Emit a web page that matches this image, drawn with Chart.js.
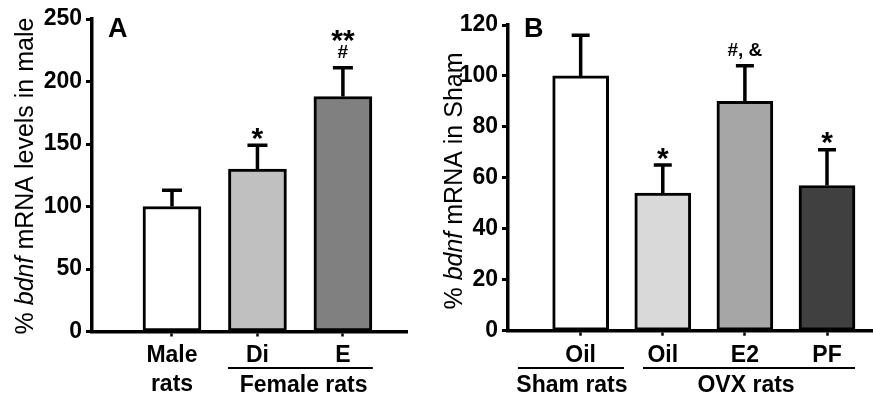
<!DOCTYPE html>
<html>
<head>
<meta charset="utf-8">
<script src="https://cdn.jsdelivr.net/npm/chart.js@4.4.1/dist/chart.umd.min.js"></script>
<style>
  html, body { margin: 0; padding: 0; background: #fff; }
  #wrap { position: relative; width: 873px; height: 396px; overflow: hidden; }
  canvas { position: absolute; top: 0; }
  #chartA { left: 0; }
  #chartB { left: 430px; }
</style>
</head>
<body>
<div id="wrap">
  <canvas id="chartA" width="430" height="396"></canvas>
  <canvas id="chartB" width="443" height="396"></canvas>
</div>
<script>
const FONT = 'Arial, "Liberation Sans", sans-serif';

// Panel A: male vs female rats
const catsA = [['Male', 'rats'], 'Di', 'E'];
const meansA = [100, 130, 188];
const semA = [13, 19, 23];
const marksA = [[], ['*'], ['#', '**']];
const colorsA = ['#ffffff', '#c0c0c0', '#808080'];
const yTicksA = [0, 50, 100, 150, 200, 250];

// Panel B: sham vs OVX rats
const catsB = ['Oil', 'Oil', 'E2', 'PF'];
const meansB = [100, 54, 90, 57];
const semB = [16, 11, 14, 14];
const marksB = [[], ['*'], ['#, &'], ['*']];
const colorsB = ['#ffffff', '#d9d9d9', '#a6a6a6', '#404040'];
const yTicksB = [0, 20, 40, 60, 80, 100, 120];

// rotated axis title with an italic gene name
function drawTitle(ctx, parts, cx, cy) {
  ctx.save();
  ctx.translate(cx, cy);
  ctx.rotate(-Math.PI / 2);
  ctx.textAlign = 'left';
  ctx.textBaseline = 'alphabetic';
  const fonts = parts.map(p => (p.italic ? 'italic ' : '') + '25px ' + FONT);
  let total = 0;
  const widths = parts.map((p, i) => {
    ctx.font = fonts[i];
    const w = ctx.measureText(p.text).width;
    total += w;
    return w;
  });
  let xx = -total / 2;
  parts.forEach((p, i) => {
    ctx.font = fonts[i];
    ctx.fillText(p.text, xx, 0);
    xx += widths[i];
  });
  ctx.restore();
}

const extras = {
  id: 'extras',
  afterDatasetsDraw(chart, args, o) {
    const { ctx, scales: { x, y } } = chart;
    const bars = chart.getDatasetMeta(0).data;
    ctx.save();
    ctx.strokeStyle = '#000';
    ctx.fillStyle = '#000';

    // error bars (upper half only) and significance marks
    bars.forEach((bar, i) => {
      const top = y.getPixelForValue(o.means[i]);
      const cap = y.getPixelForValue(o.means[i] + o.sem[i]);
      ctx.lineWidth = 3.5;
      ctx.beginPath();
      ctx.moveTo(bar.x, top);
      ctx.lineTo(bar.x, cap);
      ctx.moveTo(bar.x - o.capWidth / 2, cap);
      ctx.lineTo(bar.x + o.capWidth / 2, cap);
      ctx.stroke();

      let bottom = cap - 10;
      ctx.textAlign = 'center';
      ctx.textBaseline = 'alphabetic';
      o.marks[i].forEach(t => {
        const star = t[0] === '*';
        const size = star ? 30 : 19;
        const base = star ? bottom + 0.42 * size : bottom;
        ctx.font = 'bold ' + size + 'px ' + FONT;
        ctx.fillText(t, bar.x, base);
        bottom = base - 0.716 * size - 7;
      });
    });

    // group underlines and group names
    ctx.lineWidth = 2;
    ctx.font = 'bold 23px ' + FONT;
    ctx.textAlign = 'center';
    o.groups.forEach(g => {
      ctx.beginPath();
      ctx.moveTo(x.getPixelForValue(g.from), o.groupLineY);
      ctx.lineTo(x.getPixelForValue(g.to), o.groupLineY);
      ctx.stroke();
      ctx.fillText(g.label, x.getPixelForValue(g.at), o.groupLabelY);
    });

    // panel letter
    ctx.textAlign = 'left';
    ctx.font = 'bold 27px ' + FONT;
    ctx.fillText(o.letter, o.letterX, o.letterY);

    drawTitle(ctx, o.title, o.titleX, o.titleY);
    ctx.restore();
  }
};

function makePanel(id, cfg) {
  const tickFont = { family: FONT, size: 23, weight: 'bold', lineHeight: 1.26 };
  return new Chart(document.getElementById(id), {
    type: 'bar',
    data: {
      datasets: [{
        data: cfg.means.map((v, i) => ({ x: i + 1, y: v })),
        backgroundColor: cfg.colors,
        borderColor: '#000',
        borderWidth: 3,
        borderSkipped: false,
        barThickness: cfg.barWidth
      }]
    },
    options: {
      responsive: false,
      animation: false,
      devicePixelRatio: 1,
      layout: { padding: cfg.padding },
      plugins: {
        legend: { display: false },
        tooltip: { enabled: false },
        extras: {
          means: cfg.means, sem: cfg.sem, marks: cfg.marks, capWidth: cfg.capWidth,
          groups: cfg.groups, groupLineY: 368, groupLabelY: 392,
          letter: cfg.letter, letterX: cfg.letterX, letterY: 37,
          title: cfg.title, titleX: cfg.titleX, titleY: cfg.titleY
        }
      },
      scales: {
        x: {
          type: 'linear',
          offset: false,
          min: cfg.xMin,
          max: cfg.xMax,
          afterBuildTicks: s => { s.ticks = cfg.cats.map((c, i) => ({ value: i + 1 })); },
          afterFit: s => { s.height = cfg.xHeight; },
          ticks: {
            callback: v => cfg.cats[v - 1],
            font: tickFont,
            color: '#000',
            padding: 5,
            maxRotation: 0,
            autoSkip: false
          },
          grid: { offset: false, drawOnChartArea: false, tickLength: 5, tickWidth: 2.5, tickColor: '#000' },
          border: { color: '#000', width: 3.5 }
        },
        y: {
          min: 0,
          max: cfg.yTicks[cfg.yTicks.length - 1],
          afterBuildTicks: s => { s.ticks = cfg.yTicks.map(v => ({ value: v })); },
          afterFit: s => { s.width = cfg.yWidth; },
          ticks: { font: tickFont, color: '#000', padding: 4 },
          grid: { drawOnChartArea: false, tickLength: 6, tickWidth: 3, tickColor: '#000' },
          border: { color: '#000', width: 3.5 }
        }
      }
    },
    plugins: [extras]
  });
}

makePanel('chartA', {
  cats: catsA, means: meansA, sem: semA, marks: marksA, colors: colorsA, yTicks: yTicksA,
  barWidth: 58, capWidth: 20,
  padding: { top: 19, right: 23, bottom: 0, left: 0 },
  yWidth: 92, xHeight: 64.5, xMin: 0.064, xMax: 3.75,
  groups: [{ from: 1.655, to: 3.35, at: 2.54, label: 'Female rats' }],
  letter: 'A', letterX: 108,
  title: [{ text: '% ' }, { text: 'bdnf', italic: true }, { text: ' mRNA levels in male' }],
  titleX: 33, titleY: 176
});

makePanel('chartB', {
  cats: catsB, means: meansB, sem: semB, marks: marksB, colors: colorsB, yTicks: yTicksB,
  barWidth: 56, capWidth: 18,
  padding: { top: 25, right: 1, bottom: 0, left: 0 },
  yWidth: 78, xHeight: 65.3, xMin: 0.115, xMax: 4.548,
  groups: [
    { from: 0.236, to: 1.528, at: 0.894, label: 'Sham rats' },
    { from: 1.759, to: 4.341, at: 3.014, label: 'OVX rats' }
  ],
  letter: 'B', letterX: 94,
  title: [{ text: '% ' }, { text: 'bdnf', italic: true }, { text: ' mRNA in Sham' }],
  titleX: 32, titleY: 181
});
</script>
</body>
</html>
